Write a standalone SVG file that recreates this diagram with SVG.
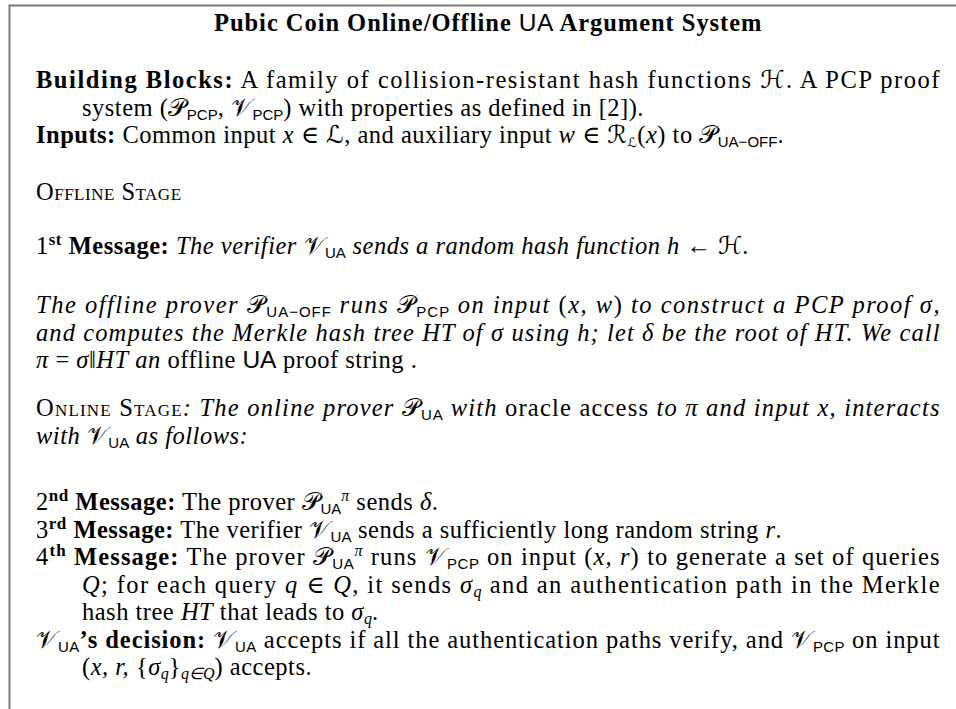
<svg xmlns="http://www.w3.org/2000/svg" width="956" height="709" viewBox="0 0 956 709">
<style>
text{font-family:"Liberation Serif","DejaVu Serif",serif;font-size:24.5px;fill:#000;letter-spacing:0.5px}
.b{font-weight:bold}
.i{font-style:italic}
.r{font-style:normal}
.sf{font-family:"Liberation Sans","DejaVu Sans",sans-serif;font-style:normal;font-weight:normal;letter-spacing:0}
.sub{font-family:"Liberation Sans","DejaVu Sans",sans-serif;font-size:15px;font-style:normal;font-weight:normal;baseline-shift:-4px;letter-spacing:0}
.subi{font-family:"Liberation Serif",serif;font-size:16px;font-style:italic;font-weight:normal;baseline-shift:-4px;letter-spacing:0}
.subc{font-family:"DejaVu Sans",sans-serif;font-size:13px;font-style:normal;font-weight:normal;baseline-shift:-4px}
.sup{font-size:17px;font-weight:bold;font-style:normal;baseline-shift:9px}
.supi{font-size:16px;font-style:italic;font-weight:normal;baseline-shift:9px}
.cal{font-family:"DejaVu Sans","Noto Sans",sans-serif;font-style:normal;font-weight:normal}
.sc{font-variant:small-caps}
</style>
<path d="M9.5 709 V5.5 H956" fill="none" stroke="#7a7a7a" stroke-width="2"/>
<g id="title">
<text x="488" y="31" text-anchor="middle" class="b" textLength="548">Pubic Coin Online/Offline <tspan class="sf">UA</tspan> Argument System</text>
</g>
<g id="header">
<text x="36" y="88" textLength="904"><tspan class="b">Building Blocks:</tspan> A family of collision-resistant hash functions <tspan class="cal">ℋ</tspan>. A PCP proof</text>
<text x="82" y="115.5">system (<tspan class="cal">𝒫</tspan><tspan class="sub">PCP</tspan>, <tspan class="cal">𝒱</tspan><tspan class="sub">PCP</tspan>) with properties as defined in [2]).</text>
<text x="36" y="143"><tspan class="b">Inputs:</tspan> Common input <tspan class="i">x</tspan> ∈ <tspan class="cal">ℒ</tspan>, and auxiliary input <tspan class="i">w</tspan> ∈ <tspan class="cal">ℛ</tspan><tspan class="subc">ℒ</tspan>(<tspan class="i">x</tspan>) to <tspan class="cal">𝒫</tspan><tspan class="sub">UA−OFF</tspan>.</text>
</g>
<g id="offline">
<text x="36" y="200" class="sc">Offline Stage</text>
<text x="36" y="254">1<tspan class="sup">st</tspan><tspan class="b"> Message:</tspan><tspan class="i"> The verifier </tspan><tspan class="cal">𝒱</tspan><tspan class="sub">UA</tspan><tspan class="i"> sends a random hash function h </tspan>← <tspan class="cal">ℋ</tspan><tspan class="i">.</tspan></text>
<text x="36" y="313" class="i" textLength="904">The offline prover <tspan class="cal">𝒫</tspan><tspan class="sub">UA−OFF</tspan> runs <tspan class="cal">𝒫</tspan><tspan class="sub">PCP</tspan> on input <tspan class="r">(</tspan>x, w<tspan class="r">)</tspan> to construct a PCP proof σ,</text>
<text x="36" y="340.5" class="i" textLength="904">and computes the Merkle hash tree HT of σ using h; let δ be the root of HT. We call</text>
<text x="36" y="368"><tspan class="i">π</tspan> = <tspan class="i">σ</tspan>‖<tspan class="i">HT</tspan>  <tspan class="i">an</tspan> offline <tspan class="sf">UA</tspan> proof string .</text>
</g>
<g id="online">
<text x="36" y="416" textLength="904"><tspan class="sc">Online Stage</tspan><tspan class="i">: The online prover </tspan><tspan class="cal">𝒫</tspan><tspan class="sub">UA</tspan><tspan class="i"> with</tspan> oracle access <tspan class="i">to π and input x, interacts</tspan></text>
<text x="36" y="443.5" class="i">with <tspan class="cal">𝒱</tspan><tspan class="sub">UA</tspan> as follows:</text>
<text x="36" y="510">2<tspan class="sup">nd</tspan><tspan class="b"> Message:</tspan> The prover <tspan class="cal">𝒫</tspan><tspan class="sub">UA</tspan><tspan class="supi">π</tspan> sends <tspan class="i">δ</tspan>.</text>
<text x="36" y="537.5">3<tspan class="sup">rd</tspan><tspan class="b"> Message:</tspan> The verifier <tspan class="cal">𝒱</tspan><tspan class="sub">UA</tspan> sends a sufficiently long random string <tspan class="i">r</tspan>.</text>
<text x="36" y="565" textLength="904">4<tspan class="sup">th</tspan><tspan class="b"> Message:</tspan> The prover <tspan class="cal">𝒫</tspan><tspan class="sub">UA</tspan><tspan class="supi">π</tspan> runs <tspan class="cal">𝒱</tspan><tspan class="sub">PCP</tspan> on input (<tspan class="i">x, r</tspan>) to generate a set of queries</text>
<text x="82" y="592.5" textLength="858"><tspan class="i">Q</tspan>; for each query <tspan class="i">q</tspan> ∈ <tspan class="i">Q</tspan>, it sends <tspan class="i">σ</tspan><tspan class="subi">q</tspan> and an authentication path in the Merkle</text>
<text x="82" y="620">hash tree <tspan class="i">HT</tspan> that leads to <tspan class="i">σ</tspan><tspan class="subi">q</tspan>.</text>
<text x="36" y="647.5" textLength="904"><tspan class="cal">𝒱</tspan><tspan class="sub">UA</tspan><tspan class="b">’s decision:</tspan> <tspan class="cal">𝒱</tspan><tspan class="sub">UA</tspan> accepts if all the authentication paths verify, and <tspan class="cal">𝒱</tspan><tspan class="sub">PCP</tspan> on input</text>
<text x="82" y="675">(<tspan class="i">x, r, </tspan>{<tspan class="i">σ</tspan><tspan class="subi">q</tspan>}<tspan class="subi">q∈Q</tspan>) accepts.</text>
</g>
</svg>
